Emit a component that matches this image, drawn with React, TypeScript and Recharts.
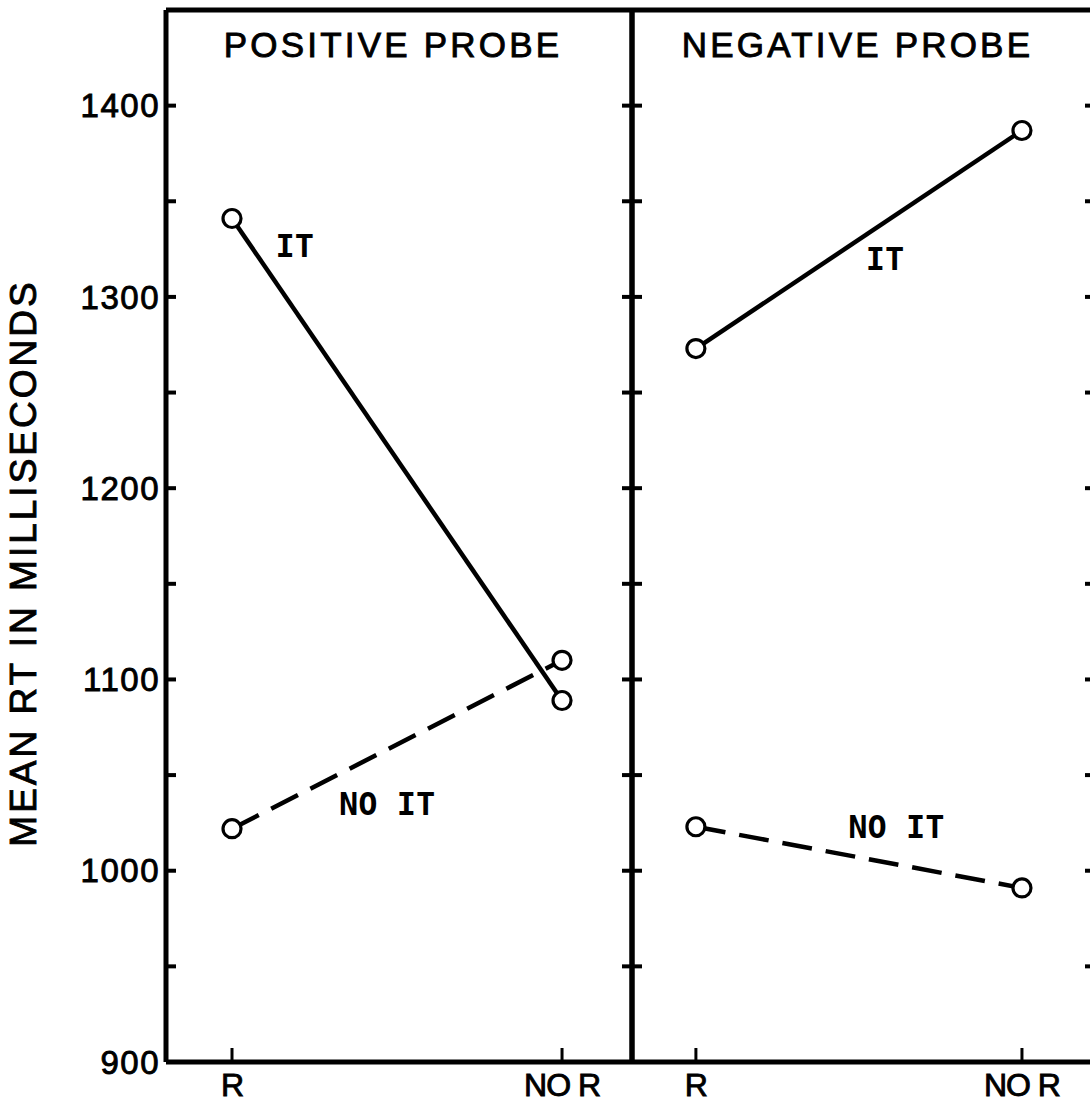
import { LineChart, Line, XAxis, YAxis, ReferenceLine, ReferenceDot, Label } from "recharts";

const conditions = ["R", "NO R"];
const conditionIndex = [0, 1];
const positiveIT = [1341, 1089];
const positiveNoIT = [1022, 1110];
const negativeIT = [1273, 1387];
const negativeNoIT = [1023, 991];
const yTicks = [900, 950, 1000, 1050, 1100, 1150, 1200, 1250, 1300, 1350, 1400];
const yLabels = [900, 1000, 1100, 1200, 1300, 1400];

// series name labels, placed in data units
const positiveNotes = [
  { x: 0.19, y: 1327, text: "IT" },
  { x: 0.47, y: 1035, text: "NO IT" },
];
const negativeNotes = [
  { x: 0.58, y: 1320, text: "IT" },
  { x: 0.615, y: 1023, text: "NO IT" },
];

const sans = "'Liberation Sans', Arial, sans-serif";
const ink = "#000";
const axisLine = { stroke: ink, strokeWidth: 5 };
const tickLine = { stroke: ink, strokeWidth: 4 };
// heavier lettering, like the hand-lettered original
const heavy = { stroke: ink, strokeWidth: 0.9 };

type PanelProps = {
  title: string;
  it: number[];
  noIt: number[];
  notes: { x: number; y: number; text: string }[];
  xDomain: [number, number];
  width: number;
  leftWidth: number;
  showYLabels: boolean;
};

function Panel({ title, it, noIt, notes, xDomain, width, leftWidth, showYLabels }: PanelProps) {
  const rows = conditionIndex.map((i) => ({ pos: i, it: it[i], noIt: noIt[i] }));
  const dot = { r: 9, stroke: ink, strokeWidth: 3.2, fill: "#fff", strokeDasharray: "none" };

  return (
    <LineChart width={width} height={1104} data={rows} margin={{ top: 10, right: 0, bottom: 0, left: 0 }}>
      <XAxis
        dataKey="pos"
        type="number"
        domain={xDomain}
        ticks={conditionIndex}
        tickFormatter={(v) => conditions[v]}
        allowDataOverflow
        height={42}
        tickSize={-14}
        tickMargin={25}
        axisLine={axisLine}
        tickLine={{ stroke: ink, strokeWidth: 3 }}
        tick={{ fill: ink, fontSize: 32, fontFamily: sans, letterSpacing: -1, ...heavy }}
      />
      <YAxis
        type="number"
        domain={[900, 1450]}
        ticks={yTicks}
        allowDataOverflow
        width={leftWidth}
        tickSize={-10}
        tickMargin={16}
        tickFormatter={(v) => (showYLabels && yLabels.includes(v) ? String(v) : "")}
        axisLine={axisLine}
        tickLine={tickLine}
        tick={{ fill: ink, fontSize: 33, fontFamily: sans, letterSpacing: 1.5, ...heavy }}
      >
        {showYLabels && (
          <Label
            content={(p: any) => {
              const vb = p.viewBox || { x: 0, y: 10, width: leftWidth, height: 1052 };
              return (
                <text
                  transform={`translate(${vb.x + 23}, ${vb.y + vb.height / 2 + 27}) rotate(-90)`}
                  textAnchor="middle"
                  dominantBaseline="central"
                  fill={ink}
                  fontSize={37}
                  fontFamily={sans}
                  letterSpacing={3}
                  {...heavy}
                >
                  MEAN RT IN MILLISECONDS
                </text>
              );
            }}
          />
        )}
      </YAxis>
      <YAxis
        yAxisId="right"
        orientation="right"
        type="number"
        domain={[900, 1450]}
        ticks={yTicks}
        allowDataOverflow
        width={8}
        tickSize={-10}
        tickFormatter={() => ""}
        axisLine={axisLine}
        tickLine={tickLine}
      />
      <ReferenceLine
        y={1450}
        stroke={ink}
        strokeWidth={5}
        label={{
          value: title,
          position: "bottom",
          offset: 22,
          dx: -6,
          fill: ink,
          fontSize: 35,
          fontFamily: sans,
          letterSpacing: 3.2,
          ...heavy,
        }}
      />
      <Line dataKey="it" stroke={ink} strokeWidth={4.5} dot={dot} isAnimationActive={false} />
      <Line
        dataKey="noIt"
        stroke={ink}
        strokeWidth={4.5}
        strokeDasharray="30 14"
        dot={dot}
        isAnimationActive={false}
      />
      {notes.map((n) => (
        <ReferenceDot
          key={n.text}
          x={n.x}
          y={n.y}
          r={0}
          fill="none"
          stroke="none"
          label={{
            value: n.text,
            position: "center",
            fill: ink,
            fontSize: 32,
            fontWeight: "bold",
            fontFamily: "'DejaVu Sans Mono', monospace",
          }}
        />
      ))}
    </LineChart>
  );
}

export default function App() {
  return (
    <div
      style={{
        position: "absolute",
        left: 0,
        top: 0,
        width: 1090,
        height: 1104,
        overflow: "hidden",
        background: "#fff",
      }}
    >
      <div style={{ position: "absolute", left: 0, top: 0 }}>
        <Panel
          title="POSITIVE PROBE"
          it={positiveIT}
          noIt={positiveNoIT}
          notes={positiveNotes}
          xDomain={[-0.2, 1.212]}
          width={640}
          leftWidth={166}
          showYLabels
        />
      </div>
      <div style={{ position: "absolute", left: 624, top: 0 }}>
        <Panel
          title="NEGATIVE PROBE"
          it={negativeIT}
          noIt={negativeNoIT}
          notes={negativeNotes}
          xDomain={[-0.196, 1.224]}
          width={479}
          leftWidth={8}
          showYLabels={false}
        />
      </div>
    </div>
  );
}
